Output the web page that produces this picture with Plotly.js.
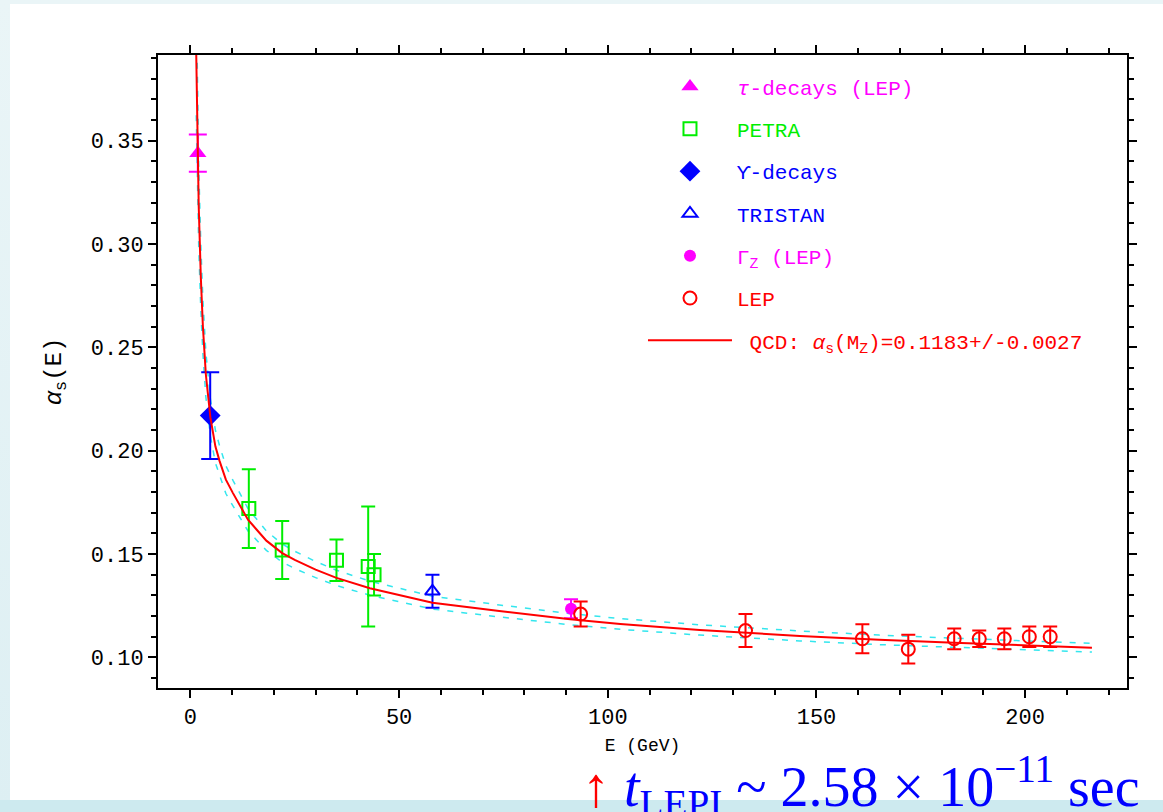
<!DOCTYPE html>
<html>
<head>
<meta charset="utf-8">
<script src="https://cdn.plot.ly/plotly-3.0.1.min.js"></script>
<style>
  html, body { margin:0; padding:0; }
  body { width:1163px; height:812px; position:relative; overflow:hidden;
         background: linear-gradient(180deg, #eaf5f7 0%, #ddeff3 100%); }
  #paper { position:absolute; left:10px; top:4px; width:1153px; height:796px; background:#ffffff; }
  #band { position:absolute; left:0; top:800px; width:1163px; height:12px; background:#cdeaef; }
  #chart { position:absolute; left:0; top:0; width:1163px; height:812px; }
</style>
</head>
<body>
<div id="paper"></div>
<div id="band"></div>
<div id="chart"></div>
<script>
// ---- data ----
const tauE = [1.78];
const tauA = [0.344];
const tauErr = [0.009];

const petraE = [14, 22, 35, 42.6, 44];
const petraA = [0.172, 0.152, 0.147, 0.144, 0.140];
const petraErr = [0.019, 0.014, 0.010, 0.029, 0.010];

const upsE = [4.75];
const upsA = [0.217];
const upsErr = [0.021];

const tristanE = [58];
const tristanA = [0.132];
const tristanErr = [0.008];

const gzE = [91.2];
const gzA = [0.1235];
const gzErr = [0.0046];

const lepE = [93.5, 133, 161, 172, 183, 189, 195, 201, 206];
const lepA = [0.121, 0.113, 0.109, 0.104, 0.109, 0.109, 0.109, 0.110, 0.110];
const lepErr = [0.006, 0.008, 0.007, 0.007, 0.005, 0.004, 0.005, 0.005, 0.005];

// QCD curve and its +/- band
const qcdE = [1.40, 1.55, 1.78, 2.0, 2.5, 3.0, 3.7, 4.8, 6.0, 7.0, 8.5, 10.2, 13.8, 18.2, 22, 25, 30, 35, 43, 50, 58, 74, 91, 103, 122, 146, 165, 183, 200, 216];
const qcdA = [0.392, 0.366, 0.338, 0.318, 0.284, 0.260, 0.237, 0.216, 0.202, 0.195, 0.186, 0.1795, 0.1666, 0.1565, 0.1505, 0.1472, 0.1425, 0.1385, 0.1335, 0.1303, 0.1265, 0.1225, 0.1185, 0.1162, 0.1133, 0.1104, 0.1085, 0.1071, 0.1058, 0.1047];
const qcdUp = [0.4216, 0.3918, 0.360, 0.3375, 0.2996, 0.273, 0.2478, 0.225, 0.2099, 0.2023, 0.1927, 0.1857, 0.172, 0.1612, 0.1549, 0.1514, 0.1464, 0.1422, 0.1369, 0.1336, 0.1296, 0.1254, 0.1212, 0.1188, 0.1158, 0.1128, 0.1108, 0.1093, 0.1080, 0.1068];
const qcdLo = [0.3624, 0.3402, 0.316, 0.2985, 0.2684, 0.247, 0.2262, 0.207, 0.1941, 0.1877, 0.1793, 0.1733, 0.1612, 0.1518, 0.1461, 0.1430, 0.1386, 0.1348, 0.1301, 0.1270, 0.1234, 0.1196, 0.1158, 0.1136, 0.1108, 0.1080, 0.1062, 0.1049, 0.1036, 0.1026];

const xTickVals = [0, 50, 100, 150, 200];
const yTickVals = [0.10, 0.15, 0.20, 0.25, 0.30, 0.35];

// ---- styles ----
const MONO = '"Liberation Mono", "DejaVu Sans Mono", monospace';
const MAG = '#ff00ff', GRN = '#00ee00', BLU = '#0000ff', RED = '#ff0000', CYAN = '#33e6ee';

function errs(arr, color, w) {
  return {type:'data', array:arr, visible:true, color:color, thickness:2, width:w};
}
function lbl(txt, color) { return '<span style="color:' + color + '">' + txt + '</span>'; }

const traces = [
  {x:qcdE, y:qcdUp, mode:'lines', line:{color:CYAN, width:1.5, dash:'6px,8px'}, showlegend:false, hoverinfo:'skip'},
  {x:qcdE, y:qcdLo, mode:'lines', line:{color:CYAN, width:1.5, dash:'6px,8px'}, showlegend:false, hoverinfo:'skip'},
  {x:tauE, y:tauA, error_y:errs(tauErr, MAG, 9), mode:'markers', name:lbl('<i>τ</i>-decays (LEP)', MAG),
   marker:{symbol:'triangle-up', size:15, color:MAG}, legendgroup:'g1'},
  {x:petraE, y:petraA, error_y:errs(petraErr, GRN, 7), mode:'markers', name:lbl('PETRA', GRN),
   marker:{symbol:'square-open', size:13, color:GRN, line:{width:2, color:GRN}}, legendgroup:'g2'},
  {x:upsE, y:upsA, error_y:errs(upsErr, BLU, 9), mode:'markers', name:lbl('ϒ-decays', BLU),
   marker:{symbol:'diamond', size:16, color:BLU}, legendgroup:'g3'},
  {x:tristanE, y:tristanA, error_y:errs(tristanErr, BLU, 7), mode:'markers', name:lbl('TRISTAN', BLU),
   marker:{symbol:'triangle-up-open', size:13, color:BLU, line:{width:2, color:BLU}}, legendgroup:'g4'},
  {x:gzE, y:gzA, error_y:errs(gzErr, MAG, 7), mode:'markers', name:lbl('Γ<sub>Z</sub> (LEP)', MAG),
   marker:{symbol:'circle', size:12, color:MAG}, legendgroup:'g5'},
  {x:lepE, y:lepA, error_y:errs(lepErr, RED, 7), mode:'markers', name:lbl('LEP', RED),
   marker:{symbol:'circle-open', size:13, color:RED, line:{width:2, color:RED}}, legendgroup:'g6'},
  {x:qcdE, y:qcdA, mode:'lines', line:{color:RED, width:2}, name:lbl('\u00a0QCD: <i>α</i><sub>s</sub>(M<sub>Z</sub>)=0.1183+/-0.0027', RED),
   legendgroup:'g7'}
];

const axisCommon = {
  showline:true, linewidth:2, linecolor:'#000', mirror:'allticks',
  ticks:'outside', ticklen:8, tickwidth:2, tickcolor:'#000',
  showgrid:false, zeroline:false,
  tickfont:{family:MONO, size:22, color:'#000'}
};

const layout = {
  width:1163, height:812,
  paper_bgcolor:'rgba(0,0,0,0)', plot_bgcolor:'rgba(0,0,0,0)',
  margin:{l:158, r:36, t:55, b:124},
  showlegend:true,
  legend:{x:0.5005, y:0.982, xanchor:'left', yanchor:'top', bgcolor:'rgba(0,0,0,0)',
          font:{family:MONO, size:21, color:'#000'}, traceorder:'grouped', tracegroupgap:12,
          itemwidth:84, itemsizing:'trace'},
  xaxis:Object.assign({}, axisCommon, {
    range:[-7.76, 224.4], tickvals:xTickVals,
    minor:{dtick:10, tick0:0, ticks:'outside', ticklen:5, tickwidth:2, tickcolor:'#000', showgrid:false},
    title:{text:'E (GeV)', font:{family:MONO, size:18, color:'#000'}, standoff:8}
  }),
  yaxis:Object.assign({}, axisCommon, {
    range:[0.0852, 0.3915], tickvals:yTickVals, tickformat:'.2f',
    minor:{dtick:0.01, tick0:0, ticks:'outside', ticklen:5, tickwidth:2, tickcolor:'#000', showgrid:false},
    title:{text:'<i>α</i><sub>s</sub>(E)', font:{family:MONO, size:24, color:'#000'}, standoff:22}
  }),
  annotations:[{
    xref:'paper', yref:'paper', x:0.436, y:-0.155, xanchor:'left', yanchor:'middle', showarrow:false,
    text:'<span style="color:#ff0000">↑</span> <i>t</i><sub>LEPI</sub> ~ 2.58 × 10<sup>−11</sup> sec',
    font:{family:'"Liberation Serif", "Times New Roman", serif', size:56, color:'#0000ff'}
  }]
};

Plotly.newPlot('chart', traces, layout, {displayModeBar:false, staticPlot:true});
</script>
</body>
</html>
